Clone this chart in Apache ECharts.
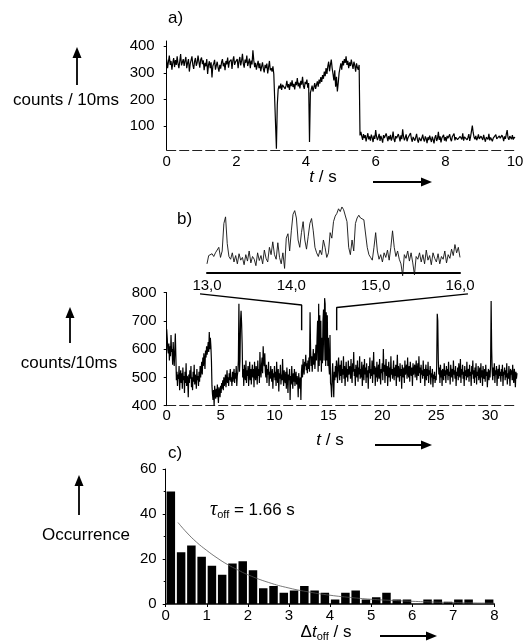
<!DOCTYPE html>
<html><head><meta charset="utf-8">
<script src="https://cdn.jsdelivr.net/npm/echarts@6/dist/echarts.min.js"></script>
<style>html,body{margin:0;padding:0;background:#fff}#c{width:529px;height:641px}</style>
</head><body><div id="c"></div>
<script>
// ---------- panel a: counts / 10ms vs t (s), sampled every 0.025 s ----------
const aStep = 0.025;
const aCounts = [
350,318,342,365,330,345,312,338,356,322,348,330,362,335,318,344,371,328,340,352,
326,345,360,318,338,352,305,334,348,362,330,315,343,356,327,339,365,342,320,350,
358,333,347,310,338,325,352,296,330,344,318,340,283,326,335,349,312,328,342,320,
305,330,316,340,352,325,338,310,345,332,358,320,342,336,350,315,347,362,330,341,
336,352,318,344,360,328,346,372,335,320,350,338,365,326,340,354,318,346,332,385,
348,322,338,312,330,345,318,336,306,324,340,316,302,330,318,335,298,322,345,310,
318,305,325,296,300,295,
15,180,238,
252,241,260,236,255,248,262,240,251,270,245,258,236,264,250,272,247,259,238,266,
254,281,249,263,242,270,256,285,251,240,266,258,275,244,262,
40,
225,238,252,230,246,262,240,255,268,248,275,260,284,266,292,278,305,288,318,296,
325,342,306,330,350,318,296,272,310,248,285,230,262,300,318,336,312,345,328,352,
338,362,330,345,318,340,326,350,332,315,342,328,305,336,320,312,330,
65,
78,62,48,70,55,66,42,58,73,50,61,45,68,57,40,64,52,85,60,47,
58,71,44,63,52,38,66,55,48,72,59,43,62,50,67,45,56,79,51,40,
62,54,47,70,58,42,65,51,88,60,46,57,69,43,55,62,48,74,53,41,
59,66,45,52,71,48,38,57,63,44,55,68,50,42,61,53,36,58,47,64,
52,40,60,49,35,57,66,44,53,78,48,61,39,55,50,67,45,58,42,63,
54,47,69,51,43,60,56,72,46,58,65,49,54,42,61,57,50,73,45,59,
52,64,48,57,70,44,60,66,102,75,58,50,63,47,55,69,52,45,62,56,
48,67,53,41,58,62,50,71,46,57,64,43,55,60,49,68,52,45,59,63,
54,47,66,58,43,61,52,70,85,56,48,62,57,51,66,49,58,55
];
const aYTicks = [100, 200, 300, 400];

// ---------- panel b: counts/10ms vs t (s), sampled every 0.05 s ----------
const bStep = 0.05;
const bCounts = [
670,640,600,585,620,560,610,575,650,590,600,545,625,580,540,595,655,575,490,520,
470,510,495,540,455,500,525,480,515,460,535,490,505,445,520,480,550,470,505,495,
430,510,480,525,495,540,465,500,455,520,485,545,475,510,495,460,530,490,505,470,
520,485,540,500,530,555,510,570,540,585,560,530,595,570,610,580,600,625,590,660,
600,640,610,560,470,440,420,455,400,470,440,425,460,430,475,445,410,465,450,430,
470,445,480,460,490,455,500,470,485,510,465,495,525,480,500,470,515,490,530,485,
500,470,520,485,510,530,480,515,495,540,470,505,520,560,760,520,560,700,735,690,
620,500,530,470,545,510,490,560,480,525,505,540,470,515,555,490,530,475,520,545,
500,530,465,555,510,490,540,520,475,560,505,530,480,590,525,500,545,570,515,610,
560,540,585,520,500,545,480,530,510,555,470,520,495,540,505,485,530,460,515,500,
540,490,520,470,555,505,480,530,450,515,495,545,475,510,490,565,500,470,525,495,
480,520,460,535,500,445,510,490,530,420,505,475,540,495,460,515,485,530,470,500,
520,475,505,490,430,515,480,460,500,420,520,545,500,565,530,510,555,540,580,525,
550,515,560,530,570,520,730,600,540,575,520,560,600,545,585,530,570,615,560,640,
700,520,760,540,720,560,700,520,640,550,700,740,560,780,760,540,730,560,720,540,
640,540,510,650,480,470,430,510,550,480,430,520,490,540,500,560,520,480,545,570,
520,490,545,505,560,480,530,510,575,495,540,470,520,555,500,530,485,560,510,525,
540,495,565,510,480,550,520,590,505,530,470,545,515,500,560,485,535,510,575,495,
530,500,555,470,520,545,490,565,510,535,480,550,500,525,460,540,515,570,495,530,
505,560,480,525,590,510,540,470,535,500,555,485,520,545,495,565,510,475,530,515,
550,490,600,520,545,480,530,565,505,540,470,520,555,500,535,485,575,510,530,495,
520,560,490,535,505,545,470,525,580,500,540,515,485,550,505,530,460,545,515,500,
535,480,560,510,525,545,495,570,515,500,540,485,555,520,505,535,470,550,510,525,
545,500,530,560,490,520,550,505,575,515,535,480,545,510,525,495,560,505,530,470,
520,545,490,530,505,555,480,525,510,540,475,515,500,530,465,510,495,520,480,505,
490,540,725,700,560,510,535,480,545,500,525,470,530,515,490,550,505,525,480,540,
510,530,490,555,505,520,475,545,515,500,530,485,560,510,525,495,540,470,520,505,
535,490,550,515,500,565,480,530,510,545,495,520,470,540,505,525,490,555,500,515,
530,485,545,505,520,470,540,510,560,495,525,480,535,500,550,475,520,505,540,490,
515,535,480,550,500,525,470,540,510,495,530,485,545,505,520,465,510,530,490,525,
500,545,770,600,520,490,535,505,550,480,525,510,540,470,515,530,495,545,505,520,
485,530,505,545,470,520,510,535,490,525,500,550,475,515,495,540,505,470,530,510,
525,490,545,500,480,530,510,465,520,495,515
];
// zoom connectors (t, counts) in panel b coordinates
const connectorLeft = [[3.09, 795], [12.52, 756], [12.52, 667]];
const connectorRight = [[15.77, 667], [15.77, 747], [27.95, 795]];

// ---------- inset: 13.0 – 16.0 s, sampled every 0.02 s ----------
const insetStart = 13.0;
const insetStep = 0.02;
const insetCounts = [
470,515,505,525,510,530,520,560,505,540,
690,726,580,
510,495,530,480,515,470,525,490,505,465,520,485,540,475,510,495,460,530,488,515,470,545,500,480,560,520,590,
520,495,585,505,470,530,445,610,634,540,
650,740,760,720,600,560,640,700,600,550,620,690,717,650,560,
530,510,545,520,600,560,505,530,
640,610,700,730,745,770,755,780,765,775,700,560,520,600,540,
690,720,735,720,728,710,700,560,520,
505,490,560,640,540,495,520,480,530,505,545,490,560,650,560,510,540,495,470,405,
520,500,540,485,530,475,410,510,495,530,480,520,470,545,490,515,465,530,500,480,
525,470,510,495,540,475,520,500,550,515,575,530,560,505
];

// ---------- panel c: histogram of Δt_off ----------
const binWidth = 0.25;
const histCounts = [50,23,26,21,17,13,18,19,15,7,8,5,6,8,6,5,2,5,6,2,3,5,2,2,0,2,2,1,2,2,0,2];
const fitT = [0.3,0.5,0.75,1,1.25,1.5,1.75,2,2.5,3,3.5,4,4.5,5,5.5,6,6.5,7,7.5,8];
const fitY = [36.2,32.0,27.5,23.8,20.5,17.6,15.2,13.0,9.6,7.1,5.3,3.9,2.9,2.1,1.6,1.2,0.87,0.64,0.47,0.35];
const tauLabel = '1.66 s';

// ---------- build ----------
const FF = 'Liberation Sans, Arial, sans-serif';
const aData = aCounts.map((v, i) => [i * aStep, v]);
const bData = bCounts.map((v, i) => [i * bStep, v]);
const insetData = insetCounts.map((v, i) => [insetStart + i * insetStep, v]);
const histData = histCounts.map((v, i) => [i * binWidth + binWidth / 2, v]);
const fitData = fitT.map((t, i) => [t, fitY[i]]);

const lab = {color: '#000', fontFamily: FF, fontSize: 15};
const axLine = {lineStyle: {color: '#000', width: 1.6}};
const dashLine = {lineStyle: {color: '#222', width: 1.2, type: [9, 4]}};

function upArrow(x, tip, tail) {
  return [
    {type: 'line', shape: {x1: x, y1: tail, x2: x, y2: tip + 8}, style: {stroke: '#000', lineWidth: 1.8}},
    {type: 'polygon', shape: {points: [[x, tip], [x - 4.5, tip + 11], [x + 4.5, tip + 11]]}, style: {fill: '#000'}}
  ];
}
function rightArrow(x1, x2, y) {
  return [
    {type: 'line', shape: {x1: x1, y1: y, x2: x2 - 8, y2: y}, style: {stroke: '#000', lineWidth: 1.8}},
    {type: 'polygon', shape: {points: [[x2, y], [x2 - 11, y - 4.5], [x2 - 11, y + 4.5]]}, style: {fill: '#000'}}
  ];
}
function txt(s, x, y, size, align, rich) {
  return {type: 'text', x: x, y: y, style: {text: s, fontFamily: FF, fontSize: size, fill: '#000',
    align: align || 'center', verticalAlign: 'middle', rich: rich}};
}
const richT = {
  it: {fontFamily: FF, fontStyle: 'italic', fontSize: 17, lineHeight: 20},
  n: {fontFamily: FF, fontSize: 17, lineHeight: 20},
  sub: {fontFamily: FF, fontSize: 11, lineHeight: 11, verticalAlign: 'bottom'},
  tau: {fontFamily: 'Liberation Serif, serif', fontStyle: 'italic', fontSize: 20, lineHeight: 20}
};

const graphics = [].concat(
  [txt('a)', 168, 18, 17, 'left'),
   txt('counts / 10ms', 66, 100, 17),
   txt('b)', 177, 219, 17, 'left'),
   txt('counts/10ms', 69, 363, 17),
   txt('c)', 168, 453, 17, 'left'),
   txt('Occurrence', 86, 535, 17),
   txt('{it|t}{n| / s}', 323, 177, 17, 'center', richT),
   txt('{it|t}{n| / s}', 330, 440, 17, 'center', richT),
   txt('{n|Δ}{it|t}{sub|off}{n| / s}', 326, 632, 17, 'center', richT),
   txt('{tau|τ}{sub|off}{n| = ' + tauLabel + '}', 210, 510, 17, 'left', richT)],
  upArrow(77, 47, 85), upArrow(70, 307, 343), upArrow(79, 475, 515),
  rightArrow(373, 432, 182), rightArrow(375, 432, 445), rightArrow(380, 437, 636)
);

const chart = echarts.init(document.getElementById('c'), null, {renderer: 'canvas'});
chart.setOption({
  animation: false,
  backgroundColor: '#fff',
  grid: [
    {left: 166.7, top: 41, width: 348.3, height: 109},
    {left: 166.7, top: 292.5, width: 350.3, height: 113.2},
    {left: 207, top: 200, width: 253, height: 73},
    {left: 165.7, top: 469, width: 328.6, height: 135}
  ],
  xAxis: [
    {gridIndex: 0, type: 'value', min: 0, max: 10, interval: 2, axisLine: dashLine,
     axisTick: {show: false}, axisLabel: Object.assign({margin: 4}, lab), splitLine: {show: false}},
    {gridIndex: 1, type: 'value', min: 0, max: 32.5, interval: 5, axisLine: dashLine,
     axisTick: {show: false}, axisLabel: Object.assign({margin: 3, showMaxLabel: false}, lab), splitLine: {show: false}},
    {gridIndex: 2, type: 'value', min: 13, max: 16, interval: 1, axisLine: {lineStyle: {color: '#000', width: 2}},
     axisTick: {show: false}, splitLine: {show: false},
     axisLabel: Object.assign({margin: 5, formatter: v => v.toFixed(1).replace('.', ',')}, lab)},
    {gridIndex: 3, type: 'value', min: 0, max: 8, interval: 1, axisLine: axLine,
     axisTick: {show: true, length: 3, lineStyle: {color: '#000'}}, axisLabel: Object.assign({margin: 4}, lab), splitLine: {show: false}}
  ],
  yAxis: [
    {gridIndex: 0, type: 'value', min: 10, max: 420, axisLine: {show: true, lineStyle: {color: '#000'}},
     axisTick: {show: true, length: 3, customValues: aYTicks, lineStyle: {color: '#000'}},
     axisLabel: Object.assign({margin: 12, customValues: aYTicks}, lab), splitLine: {show: false}},
    {gridIndex: 1, type: 'value', min: 400, max: 800, interval: 100, axisLine: {show: true, lineStyle: {color: '#000'}},
     axisTick: {show: true, length: 3, lineStyle: {color: '#000'}}, axisLabel: Object.assign({margin: 10}, lab), splitLine: {show: false}},
    {gridIndex: 2, type: 'value', min: 420, max: 818, show: false},
    {gridIndex: 3, type: 'value', min: 0, max: 60, interval: 20, axisLine: {show: true, lineStyle: {color: '#000'}},
     axisTick: {show: true, length: 3, lineStyle: {color: '#000'}},
     minorTick: {show: true, splitNumber: 2, length: 2, lineStyle: {color: '#000'}},
     axisLabel: Object.assign({margin: 9}, lab), splitLine: {show: false}}
  ],
  series: [
    {type: 'line', xAxisIndex: 0, yAxisIndex: 0, data: aData, showSymbol: false, symbol: 'none',
     lineStyle: {color: '#000', width: 1.2}},
    {type: 'line', xAxisIndex: 1, yAxisIndex: 1, data: bData, showSymbol: false, symbol: 'none',
     lineStyle: {color: '#000', width: 1.2}},
    {type: 'line', xAxisIndex: 1, yAxisIndex: 1, data: connectorLeft, symbol: 'none', clip: false,
     lineStyle: {color: '#000', width: 1.4}},
    {type: 'line', xAxisIndex: 1, yAxisIndex: 1, data: connectorRight, symbol: 'none', clip: false,
     lineStyle: {color: '#000', width: 1.4}},
    {type: 'line', xAxisIndex: 2, yAxisIndex: 2, data: insetData, symbol: 'none', clip: false,
     lineStyle: {color: '#111', width: 0.9}},
    {type: 'bar', xAxisIndex: 3, yAxisIndex: 3, data: histData, barWidth: 8.5, itemStyle: {color: '#000'}},
    {type: 'line', xAxisIndex: 3, yAxisIndex: 3, data: fitData, smooth: true, symbol: 'none',
     lineStyle: {color: '#555', width: 0.8}, z: 5}
  ],
  graphic: graphics
});
</script>
</body></html>
